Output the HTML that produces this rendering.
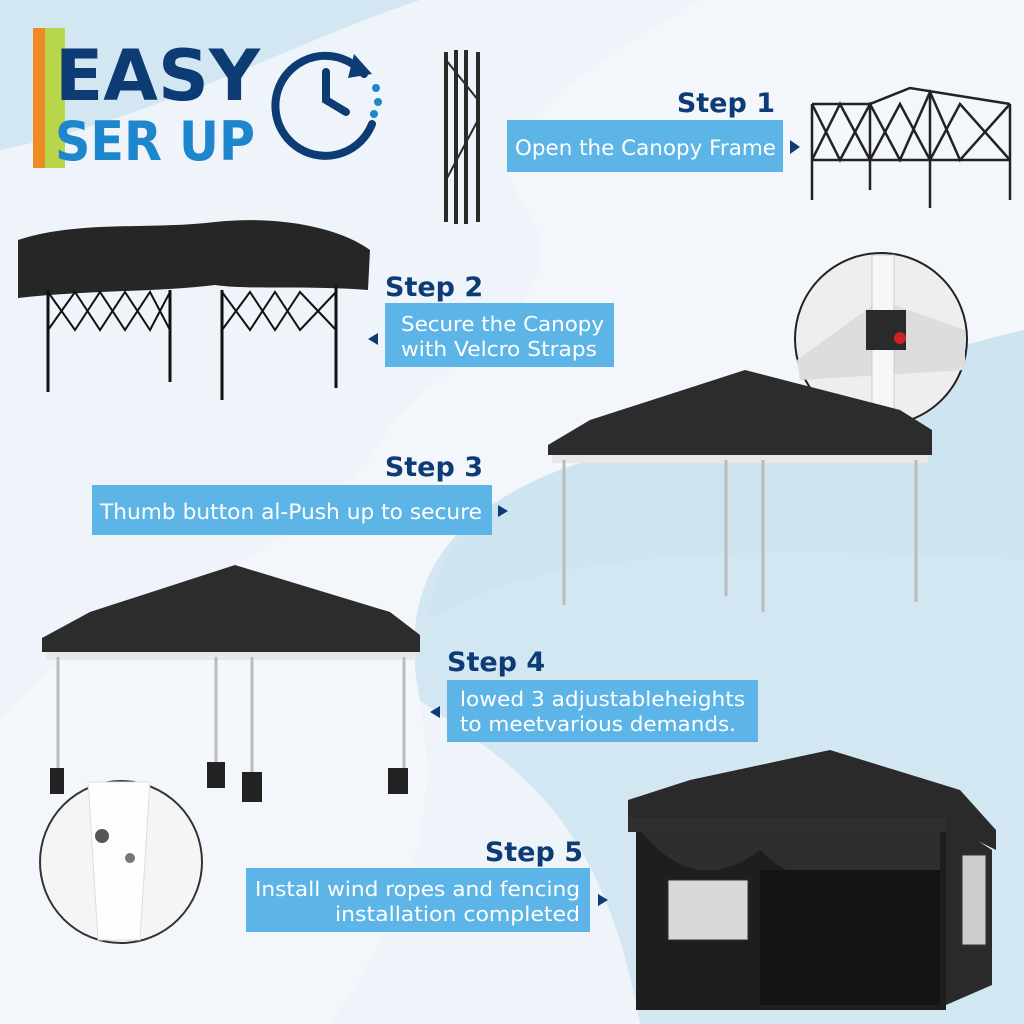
<!DOCTYPE html>
<html><head><meta charset="utf-8"><style>
html,body{margin:0;padding:0;width:1024px;height:1024px;overflow:hidden;background:#d6e9f4}
svg{display:block}
text{font-family:"DejaVu Sans","Liberation Sans",sans-serif}
</style></head><body>
<svg width="1024" height="1024" viewBox="0 0 1024 1024" xmlns="http://www.w3.org/2000/svg">
<rect width="1024" height="1024" fill="#d3e7f3"/>
<path d="M0,150 C150,120 300,40 420,0 L700,0 C560,80 480,140 520,200 C600,300 430,360 380,440 C330,520 250,560 120,620 C60,650 20,700 0,720 Z" fill="#eef4f9"/>
<path d="M700,0 L1024,0 L1024,330 C900,360 700,420 560,470 C430,520 400,600 420,700 C440,800 420,900 330,1024 L0,1024 L0,720 C20,700 60,650 120,620 C250,560 330,520 380,440 C430,360 600,300 520,200 C480,140 560,80 700,0 Z" fill="#f3f6fa"/>
<path d="M1024,330 C900,360 700,420 560,470 C470,505 430,560 430,620 C520,560 700,540 1024,560 Z" fill="#cfe4f1"/>
<path d="M330,1024 C420,900 440,800 420,700 C500,760 600,800 640,1024 Z" fill="#eef4f9"/>

<rect x="33" y="28" width="12" height="140" fill="#f08a24"/>
<rect x="45" y="28" width="20" height="140" fill="#b8d64a"/>
<text x="55" y="100" font-size="70" font-weight="bold" fill="#0d3b73" textLength="205" lengthAdjust="spacingAndGlyphs" font-family="Liberation Sans">EASY</text>
<text x="55" y="160" font-size="54" font-weight="bold" fill="#1e86cc" textLength="200" lengthAdjust="spacingAndGlyphs" font-family="Liberation Sans">SER UP</text>
<g fill="none" stroke="#0d3b73" stroke-width="8" stroke-linecap="round">
<path d="M364,74 A50,50 0 1 0 372,124" />
<path d="M326,72 L326,100 L346,112"/>
</g>
<path d="M354,54 L372,74 L348,78 Z" fill="#0d3b73"/>
<g fill="#1e86cc"><circle cx="376" cy="88" r="4"/><circle cx="378" cy="102" r="4"/><circle cx="374" cy="114" r="4"/></g>

<g stroke="#2a2a2a" stroke-width="4">
<line x1="446" y1="52" x2="446" y2="222"/><line x1="456" y1="50" x2="456" y2="224"/><line x1="466" y1="50" x2="466" y2="224"/><line x1="478" y1="52" x2="478" y2="222"/>
<line x1="446" y1="60" x2="478" y2="100" stroke-width="2"/><line x1="478" y1="120" x2="446" y2="180" stroke-width="2"/>
</g>

<text x="775" y="112" font-size="27" font-weight="bold" fill="#0d3b73" text-anchor="end">Step 1</text>
<rect x="507" y="120" width="276" height="52" fill="#5cb5e6"/>
<text x="515" y="155" font-size="21" fill="#fff" textLength="261" lengthAdjust="spacingAndGlyphs">Open the Canopy Frame</text>
<path d="M790,140 L800,147 L790,154 Z" fill="#0d3b73"/>
<g stroke="#222" stroke-width="2.5" fill="none">
<path d="M812,104 L870,104 L910,88 L1010,104"/>
<path d="M812,104 L840,160 L870,104 L900,160 L930,92 L960,160 L1010,104 M812,160 L840,104 L870,160 L900,104 L930,160 L960,104 L1010,160"/>
<line x1="812" y1="104" x2="812" y2="200"/><line x1="870" y1="104" x2="870" y2="190"/><line x1="930" y1="92" x2="930" y2="208"/><line x1="1010" y1="104" x2="1010" y2="200"/>
<line x1="812" y1="160" x2="1010" y2="160"/>
</g>

<path d="M18,240 C80,220 150,230 215,222 C280,215 340,228 370,250 L368,290 C300,285 250,290 215,285 C160,292 90,290 18,298 Z" fill="#262626"/>
<g stroke="#111" stroke-width="3" fill="none">
<line x1="48" y1="290" x2="48" y2="392"/><line x1="170" y1="290" x2="170" y2="382"/><line x1="222" y1="290" x2="222" y2="400"/><line x1="336" y1="285" x2="336" y2="388"/>
<path d="M48,292 L75,330 L100,292 L125,330 L150,292 L170,330 M222,292 L250,330 L275,292 L300,330 L336,292 M48,330 L75,292 L100,330 L125,292 L150,330 L170,292 M222,330 L250,292 L275,330 L300,292 L336,330" stroke-width="2"/>
</g>
<text x="385" y="296" font-size="27" font-weight="bold" fill="#0d3b73">Step 2</text>
<rect x="385" y="303" width="229" height="64" fill="#5cb5e6"/>
<text x="401" y="331" font-size="20" fill="#fff" textLength="203" lengthAdjust="spacingAndGlyphs">Secure the Canopy</text>
<text x="401" y="356" font-size="20" fill="#fff" textLength="196" lengthAdjust="spacingAndGlyphs">with Velcro Straps</text>
<path d="M378,333 L368,339 L378,345 Z" fill="#0d3b73"/>

<circle cx="881" cy="339" r="86" fill="#eeeeee" stroke="#222" stroke-width="2"/>
<path d="M797,360 L880,300 L965,330 L965,370 L800,380 Z" fill="#ddd"/>
<rect x="872" y="255" width="22" height="170" fill="#f7f7f7" stroke="#ccc"/>
<rect x="866" y="310" width="40" height="40" fill="#2a2a2a"/>
<circle cx="900" cy="338" r="6" fill="#c22"/>

<path d="M548,445 L590,420 L745,370 L900,410 L932,430 L932,455 L548,455 Z" fill="#2c2c2c"/>
<rect x="552" y="455" width="376" height="8" fill="#e8e8e8"/>
<g stroke="#bbb" stroke-width="3"><line x1="564" y1="460" x2="564" y2="605"/><line x1="726" y1="460" x2="726" y2="596"/><line x1="763" y1="460" x2="763" y2="612"/><line x1="916" y1="460" x2="916" y2="602"/></g>
<text x="483" y="476" font-size="27" font-weight="bold" fill="#0d3b73" text-anchor="end">Step 3</text>
<rect x="92" y="485" width="400" height="50" fill="#5cb5e6"/>
<text x="100" y="519" font-size="21" fill="#fff" textLength="382" lengthAdjust="spacingAndGlyphs">Thumb button al-Push up to secure</text>
<path d="M498,505 L508,511 L498,517 Z" fill="#0d3b73"/>

<path d="M42,638 L90,612 L235,565 L390,612 L420,635 L420,652 L42,652 Z" fill="#2c2c2c"/>
<rect x="46" y="652" width="370" height="8" fill="#e8e8e8"/>
<g stroke="#bbb" stroke-width="3"><line x1="58" y1="657" x2="58" y2="775"/><line x1="216" y1="657" x2="216" y2="765"/><line x1="252" y1="657" x2="252" y2="780"/><line x1="404" y1="657" x2="404" y2="775"/></g>
<g fill="#222"><rect x="50" y="768" width="14" height="26"/><rect x="207" y="762" width="18" height="26"/><rect x="242" y="772" width="20" height="30"/><rect x="388" y="768" width="20" height="26"/></g>
<text x="447" y="671" font-size="27" font-weight="bold" fill="#0d3b73">Step 4</text>
<rect x="447" y="680" width="311" height="62" fill="#5cb5e6"/>
<text x="460" y="706" font-size="20" fill="#fff" textLength="285" lengthAdjust="spacingAndGlyphs">lowed 3 adjustableheights</text>
<text x="460" y="731" font-size="20" fill="#fff" textLength="276" lengthAdjust="spacingAndGlyphs">to meetvarious demands.</text>
<path d="M440,706 L430,712 L440,718 Z" fill="#0d3b73"/>

<circle cx="121" cy="862" r="81" fill="#f5f5f5" stroke="#333" stroke-width="2"/>
<path d="M88,782 L150,782 L140,940 L98,940 Z" fill="#fdfdfd" stroke="#ddd"/>
<circle cx="102" cy="836" r="7" fill="#555"/><circle cx="130" cy="858" r="5" fill="#777"/>

<text x="583" y="861" font-size="27" font-weight="bold" fill="#0d3b73" text-anchor="end">Step 5</text>
<rect x="246" y="868" width="344" height="64" fill="#5cb5e6"/>
<text x="580" y="896" font-size="20" fill="#fff" text-anchor="end" textLength="325" lengthAdjust="spacingAndGlyphs">Install wind ropes and fencing</text>
<text x="580" y="921" font-size="20" fill="#fff" text-anchor="end" textLength="245" lengthAdjust="spacingAndGlyphs">installation completed</text>
<path d="M598,894 L608,900 L598,906 Z" fill="#0d3b73"/>

<path d="M628,800 L690,780 L830,750 L960,790 L996,830 L996,850 L946,825 L628,830 Z" fill="#2a2a2a"/>
<rect x="636" y="825" width="310" height="185" fill="#1e1e1e"/>
<path d="M946,820 L992,850 L992,985 L946,1005 Z" fill="#2a2a2a"/>
<path d="M640,830 C680,880 720,880 760,850 C800,890 860,900 940,880 L940,830 Z" fill="#2e2e2e"/>
<rect x="760" y="870" width="180" height="135" fill="#141414"/>
<rect x="668" y="880" width="80" height="60" fill="#d8d8d8" stroke="#333"/>
<rect x="962" y="855" width="24" height="90" fill="#ccc" stroke="#333"/>
<rect x="628" y="818" width="318" height="14" fill="#2f2f2f"/>
</svg>
</body></html>
